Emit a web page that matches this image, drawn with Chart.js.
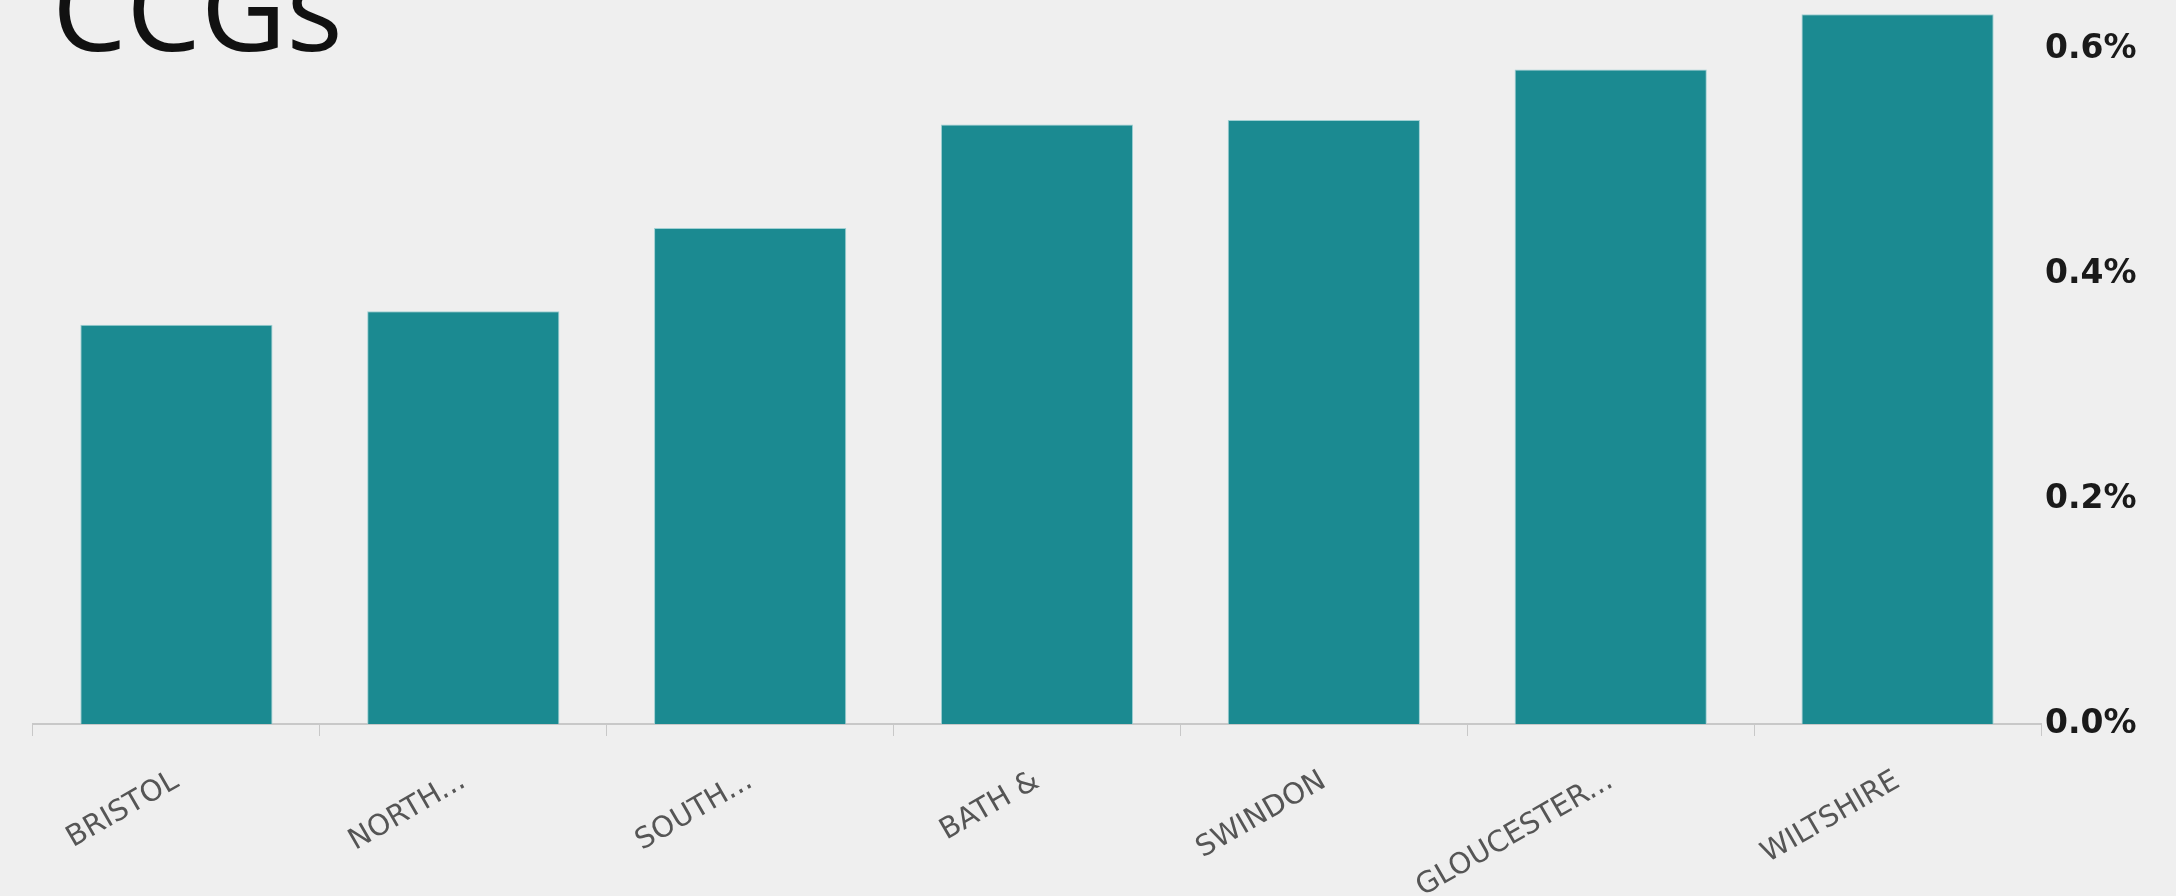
<!DOCTYPE html>
<html>
<head>
<meta charset="utf-8">
<script src="https://cdn.jsdelivr.net/npm/chart.js@4/dist/chart.umd.min.js"></script>
<style>
    html, body { margin: 0; padding: 0; background: #efefef; }
    #wrap { width: 2176px; height: 896px; position: relative; }
</style>
</head>
<body>
<div id="wrap"><canvas id="ccgChart"></canvas></div>
<script>
const titleText = "CCGs";
const ccgNames = ["BRISTOL", "NORTH...", "SOUTH...", "BATH &", "SWINDON", "GLOUCESTER...", "WILTSHIRE"];
const ccgValues = [0.355, 0.367, 0.441, 0.533, 0.537, 0.582, 0.631];
const yTicks = [0, 0.2, 0.4, 0.6];

const titlePlugin = {
    id: "titleText",
    afterDraw(chart) {
        const ctx = chart.ctx;
        ctx.save();
        ctx.font = '118px "Open Sans"';
        ctx.fillStyle = "#111";
        ctx.textBaseline = "alphabetic";
        ctx.fillText(titleText, 52, 51);
        ctx.restore();
    }
};

const ctx = document.getElementById("ccgChart");

new Chart(ctx, {
    type: "bar",
    data: {
        labels: ccgNames,
        datasets: [{
            data: ccgValues,
            backgroundColor: "#1b8a91",
            borderColor: "#9fd0d3",
            borderWidth: 1,
            barPercentage: 0.67,
            categoryPercentage: 1,
        }, ],
    },
    options: {
        responsive: true,
        maintainAspectRatio: false,
        devicePixelRatio: 1,
        animation: false,
        layout: {
            padding: { left: 33, top: 0, right: 0, bottom: 0 }
        },
        plugins: {
            legend: { display: false },
            tooltip: { enabled: false },
        },
        scales: {
            x: {
                grid: {
                    drawOnChartArea: false,
                    drawTicks: true,
                    tickLength: 12,
                    color: "#c8c8c8",
                },
                border: { display: true, color: "#c8c8c8", width: 2 },
                ticks: {
                    autoSkip: false,
                    minRotation: 30,
                    maxRotation: 30,
                    padding: 28,
                    color: "#555",
                    font: { family: "DejaVu Sans", size: 29 },
                },
                afterFit(scale) { scale.height = 172; }
            },
            y: {
                position: "right",
                min: 0,
                max: 0.64,
                grid: { display: false, drawTicks: false },
                border: { display: false },
                afterBuildTicks(scale) {
                    scale.ticks = yTicks.map(v => ({ value: v }));
                },
                ticks: {
                    padding: 4,
                    color: "#1a1a1a",
                    font: { family: "DejaVu Sans", size: 33, weight: "bold", lineHeight: 0.01 },
                    callback: v => v.toFixed(1) + "%",
                },
                afterFit(scale) { scale.width = 135; }
            }
        }
    },
    plugins: [titlePlugin]
});
</script>
</body>
</html>
